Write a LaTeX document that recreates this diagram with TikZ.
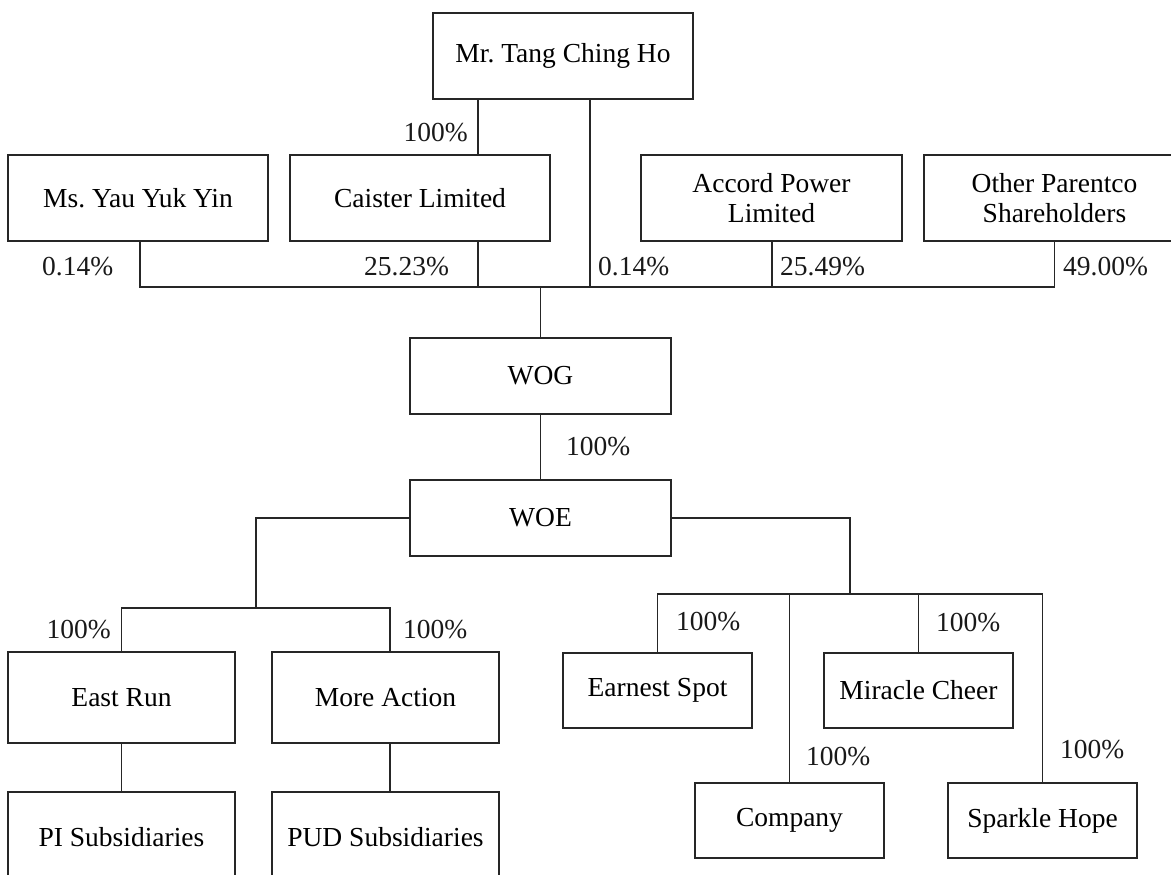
\documentclass[tikz,border=0pt]{standalone}
\usepackage{fontspec}
\setmainfont{Liberation Serif}
\begin{document}
\frenchspacing
\begin{tikzpicture}[x=1pt,y=-1pt,
  box/.style={draw=black!85, line width=1.2pt, rectangle, inner sep=0pt, align=center, font=\fontsize{27.5}{30}\selectfont},
  pct/.style={inner sep=0pt, font=\fontsize{27.5}{30}\selectfont, text=black!90},
  conn/.style={draw=black!85, line width=1.2pt}]
\useasboundingbox (0,0) rectangle (1171,875);
\clip (0,0) rectangle (1171,875);
% boxes
\node[box, minimum width=260pt, minimum height=86pt] (tang) at (563,56) {Mr. Tang Ching Ho};
\node[box, minimum width=260pt, minimum height=86pt] (yau) at (138,198) {Ms. Yau Yuk Yin};
\node[box, minimum width=260pt, minimum height=86pt] (caister) at (420,198) {Caister Limited};
\node[box, minimum width=261pt, minimum height=86pt] (accord) at (771.5,198) {Accord Power\\Limited};
\node[box, minimum width=261pt, minimum height=86pt] (other) at (1054.5,198) {Other Parentco\\Shareholders};
\node[box, minimum width=261pt, minimum height=76pt] (wog) at (540.5,376) {WOG};
\node[box, minimum width=261pt, minimum height=76pt] (woe) at (540.5,518) {WOE};
\node[box, minimum width=227pt, minimum height=91pt] (east) at (121.5,697.5) {East Run};
\node[box, minimum width=227pt, minimum height=91pt] (more) at (385.5,697.5) {More Action};
\node[box, minimum width=227pt, minimum height=91pt] (pi) at (121.5,837.5) {PI Subsidiaries};
\node[box, minimum width=227pt, minimum height=91pt] (pud) at (385.5,837.5) {PUD Subsidiaries};
\node[box, minimum width=189pt, minimum height=75pt] (earnest) at (657.5,690.5) {Earnest Spot};
\node[box, minimum width=189pt, minimum height=75pt] (miracle) at (918.5,690.5) {Miracle Cheer};
\node[box, minimum width=189pt, minimum height=75pt] (company) at (789.5,820.5) {Company};
\node[box, minimum width=189pt, minimum height=75pt] (sparkle) at (1042.5,820.5) {Sparkle Hope};
% helper coordinates
\coordinate (cT1) at (478,0);
\coordinate (cT2) at (590,0);
\coordinate (cY) at (140,0);
\coordinate (cA) at (772,0);
\coordinate (busY) at (0,287);
\coordinate (cL) at (256,0);
\coordinate (busL) at (0,608);
\coordinate (cM) at (390,0);
\coordinate (cR) at (850,0);
\coordinate (busR) at (0,594);
% connectors
\draw[conn] (tang.south -| cT1) -- (caister.north -| cT1);
\draw[conn] (tang.south -| cT2) -- (busY -| cT2);
\draw[conn] (yau.south -| cY) -- (busY -| cY) -- (busY -| other.south) -- (other.south);
\draw[conn] (caister.south -| cT1) -- (busY -| cT1);
\draw[conn] (accord.south -| cA) -- (busY -| cA);
\draw[conn] (busY -| wog.north) -- (wog.north);
\draw[conn] (wog.south) -- (woe.north);
\draw[conn] (woe.west) -- (woe.west -| cL) -- (busL -| cL);
\draw[conn] (east.north) -- (east.north |- busL) -- (busL -| cM) -- (more.north -| cM);
\draw[conn] (east.south) -- (pi.north);
\draw[conn] (more.south -| cM) -- (pud.north -| cM);
\draw[conn] (woe.east) -- (woe.east -| cR) -- (busR -| cR);
\draw[conn] (earnest.north) -- (earnest.north |- busR) -- (busR -| sparkle.north) -- (sparkle.north);
\draw[conn] (busR -| company.north) -- (company.north);
\draw[conn] (busR -| miracle.north) -- (miracle.north);
% percentage labels
\node[pct, anchor=base east] (p1) at (468,141.5) {100\%};
\node[pct, anchor=base west] (p2) at (42,275.5) {0.14\%};
\node[pct, anchor=base west] (p3) at (364,275.5) {25.23\%};
\node[pct, anchor=base west] (p4) at (598,275.5) {0.14\%};
\node[pct, anchor=base west] (p5) at (780,275.5) {25.49\%};
\node[pct, anchor=base west] (p6) at (1063,275.5) {49.00\%};
\node[pct, anchor=base west] (p7) at (566,455) {100\%};
\node[pct, anchor=base east] (p8) at (111,638.5) {100\%};
\node[pct, anchor=base west] (p9) at (403,638.5) {100\%};
\node[pct, anchor=base west] (p10) at (676,630.5) {100\%};
\node[pct, anchor=base west] (p11) at (936,631.5) {100\%};
\node[pct, anchor=base west] (p12) at (806,765) {100\%};
\node[pct, anchor=base west] (p13) at (1060,758.5) {100\%};
\end{tikzpicture}
\end{document}
